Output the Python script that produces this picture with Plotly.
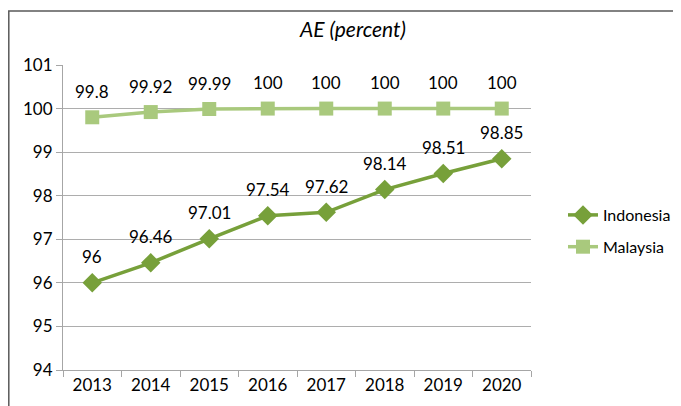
import plotly.graph_objects as go

years = ["2013", "2014", "2015", "2016", "2017", "2018", "2019", "2020"]
indonesia = [96, 96.46, 97.01, 97.54, 97.62, 98.14, 98.51, 98.85]
malaysia = [99.8, 99.92, 99.99, 100, 100, 100, 100, 100]
indonesia_labels = ["96", "96.46", "97.01", "97.54", "97.62", "98.14", "98.51", "98.85"]
malaysia_labels = ["99.8", "99.92", "99.99", "100", "100", "100", "100", "100"]
y_ticks = [94, 95, 96, 97, 98, 99, 100, 101]

C_IND = "#77A03A"
C_MAL = "#A9C97D"
FONT = "Lato"

# page body has an 8px margin: figure is 673x398 drawn at (8,8)
W, H = 673, 398
L, T, PW, PH = 55, 57, 468, 305


def px(xs):  # screen x -> paper
    return (xs - 8 - L) / PW


def py(ys):  # screen y -> paper
    return (T + PH - (ys - 8)) / PH


fig = go.Figure()
fig.add_trace(go.Scatter(
    x=years, y=indonesia, name="Indonesia", mode="lines+markers",
    line=dict(color=C_IND, width=3.5),
    marker=dict(symbol="diamond", size=15, color=C_IND),
    legendgroup="a",
))
fig.add_trace(go.Scatter(
    x=years, y=malaysia, name="Malaysia", mode="lines+markers",
    line=dict(color=C_MAL, width=3.5),
    marker=dict(symbol="square", size=14, color=C_MAL),
    legendgroup="b",
))

annotations = []
for ys, labs in [(indonesia, indonesia_labels), (malaysia, malaysia_labels)]:
    for i, (yv, t) in enumerate(zip(ys, labs)):
        annotations.append(dict(
            x=i, y=yv, xref="x", yref="y", text=t, showarrow=False, yshift=26,
            font=dict(family=FONT, size=17, color="#000000"),
        ))

annotations.append(dict(
    xref="paper", yref="paper", x=px(352), y=py(29),
    text="<i>AE (percent)</i>", showarrow=False,
    font=dict(family=FONT, size=21, color="#000000"),
    xanchor="center", yanchor="middle",
))

fig.update_layout(
    width=W, height=H,
    margin=dict(l=L, r=W - L - PW, t=T, b=H - T - PH, autoexpand=False),
    paper_bgcolor="white", plot_bgcolor="white",
    font=dict(family=FONT, size=17, color="#000000"),
    showlegend=True,
    legend=dict(
        xref="container", yref="container",
        x=(563 - 8) / W, y=1 - (198 - 8) / H, xanchor="left", yanchor="top",
        font=dict(family=FONT, size=16, color="#000000"),
        tracegroupgap=8, traceorder="grouped", bgcolor="rgba(0,0,0,0)",
        itemwidth=30,
    ),
    annotations=annotations,
    shapes=[dict(
        type="rect", xref="paper", yref="paper",
        x0=px(8.8), x1=px(674),
        y0=-0.3, y1=py(11),
        line=dict(color="#595959", width=1.5), layer="below",
    )],
)
fig.update_xaxes(
    type="category", tickson="boundaries", ticks="outside", ticklen=6,
    tickcolor="#A6A6A6", showgrid=False, showline=True, linecolor="#A6A6A6",
    linewidth=1, tickfont=dict(family=FONT, size=17), range=[-0.5, 7.5],
    automargin=False,
)
fig.update_yaxes(
    range=[94, 101], tickvals=y_ticks, ticks="outside", ticklen=6,
    tickcolor="#A6A6A6", showgrid=True, gridcolor="#ADADAD", gridwidth=1,
    showline=True, linecolor="#A6A6A6", zeroline=False,
    tickfont=dict(family=FONT, size=17), automargin=False,
)

fig.write_html("out.html")
